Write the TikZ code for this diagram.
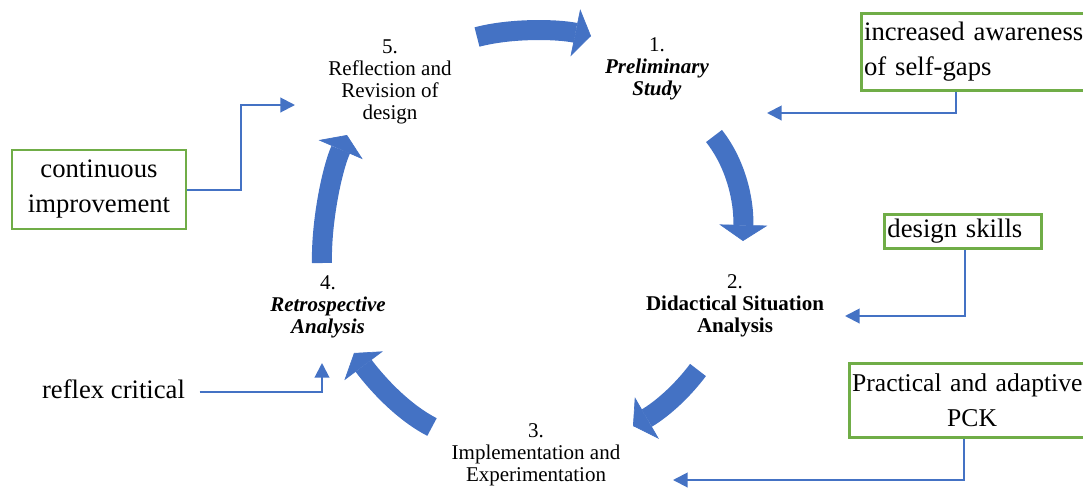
\documentclass[tikz,border=0pt]{standalone}
\usepackage{fontspec}
\setmainfont{Liberation Serif}
\usetikzlibrary{arrows.meta}
\definecolor{flow}{HTML}{4472C4}
\definecolor{boxgreen}{HTML}{70AD47}
\tikzset{
  stage/.style={align=center, font=\fontsize{15.75}{16.5}\selectfont, inner sep=0pt},
  gbox/.style={draw=boxgreen, line width=2.2pt, font=\fontsize{20}{26.25}\selectfont, fill=white},
  plain/.style={font=\fontsize{20}{26.25}\selectfont},
  conn/.style={draw=flow, line width=1.5pt, -{Triangle[length=11pt,width=11pt]}},
  cyc/.style={draw=flow, line width=15pt, -{Triangle[length=12pt,width=36pt,line width=0.5pt]}}
}
\begin{document}
\begin{tikzpicture}[x=0.75pt,y=-0.75pt]
\useasboundingbox (0,0) rectangle (1083,487);
\clip (0,0) rectangle (1083,487);

% the five stages of the cycle
\node[stage] (s5) at (390,82) {5.\\Reflection and\\Revision of\\design};
\node[stage] (s1) at (657,69) {1.\\\textbf{\textit{Preliminary}}\\\textbf{\textit{Study}}};
\node[stage] (s2) at (735,306) {2.\\\textbf{Didactical Situation}\\\textbf{Analysis}};
\node[stage] (s3) at (536,455) {3.\\Implementation and\\Experimentation};
\node[stage] (s4) at (328,307) {4.\\\textbf{\textit{Retrospective}}\\\textbf{\textit{Analysis}}};

% curved block arrows between the stages
\draw[cyc] (477,37) .. controls (511,28) and (557,29) .. (591,36);
\draw[cyc] (714,136) .. controls (736,164) and (744,200) .. (743,241);
\draw[cyc] (698,370) .. controls (680,394) and (659,411) .. (633,426);
\draw[cyc] (432,427) .. controls (401,411) and (375,381) .. (354,353);
\draw[cyc] (322,263) .. controls (321,225) and (331,172) .. (347,135);

% outcome boxes
\node[gbox, anchor=north west, minimum height=57.75pt, text width=171.75pt,
      inner xsep=2pt, align=left] (aware) at (860,12) {increased awareness\\of self-gaps};
\node[gbox, minimum width=130.5pt, minimum height=59.25pt, align=center,
      inner xsep=2pt] (cont) at (99,189.5) {continuous\\improvement};
\node[gbox, anchor=north west, minimum height=25.5pt, text width=113.25pt,
      inner xsep=2.25pt, inner ysep=0pt, align=left] (skills) at (883,213) {design skills};
\node[gbox, anchor=north west, minimum height=55.5pt, text width=180pt,
      inner xsep=2pt, align=left, font=\fontsize{19.2}{26.25}\selectfont]
      (pck) at (848,362) {Practical and adaptive\\\makebox[180pt]{PCK}};
\node[plain] (reflex) at (113.5,389) {reflex critical};

% arrow ends next to the stages
\coordinate (t1) at (767,113);
\coordinate (t2) at (845,316);
\coordinate (t3) at (673,480);
\coordinate (t4) at (322,363);
\coordinate (t5) at (295,105);
\coordinate (k5) at (241,105);

% connectors from the outcomes to the stages
\draw[conn] ([xshift=-16.875pt]aware.south) |- (t1);
\draw[conn] ([xshift=1.875pt]skills.south) |- (t2);
\draw[conn] ([xshift=-6.4pt]pck.south) |- (t3);
\draw[conn] ([xshift=7.5pt,yshift=-2.25pt]reflex.east) -| (t4);
\draw[conn] (cont.east) -| (k5) -- (t5);
\end{tikzpicture}
\end{document}
